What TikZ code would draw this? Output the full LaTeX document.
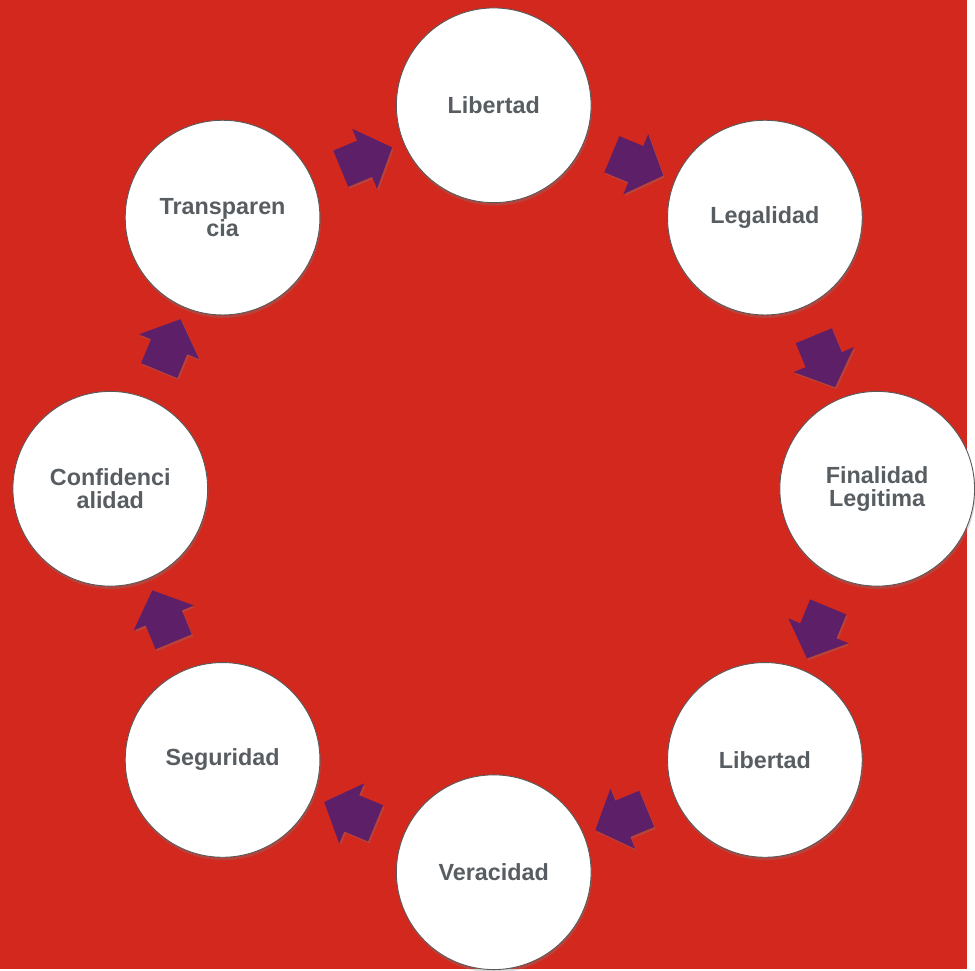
\documentclass[tikz,border=0pt]{standalone}
\usepackage{fontspec}
\setmainfont{Liberation Sans}
\usetikzlibrary{calc,shapes.arrows,shadows}

\definecolor{bgred}{RGB}{210,40,30}
\definecolor{flowpurple}{RGB}{92,31,104}
\definecolor{labelgray}{RGB}{88,93,98}

\begin{document}
\begin{tikzpicture}[x=1pt,y=1pt,
    principle/.style={circle, draw=black!65, line width=0.9pt, fill=white,
      minimum size=196pt, inner sep=0pt, align=center, text=labelgray,
      font=\fontsize{23.5}{23}\selectfont\bfseries,
      drop shadow={shadow xshift=1pt, shadow yshift=-3pt, opacity=0.3}},
    flow/.style={single arrow, fill=flowpurple, draw=none,
      inner xsep=0pt, inner ysep=19.5pt, minimum height=56pt,
      single arrow head extend=13pt, single arrow tip angle=95,
      drop shadow={shadow xshift=1.5pt, shadow yshift=-2pt, opacity=0.3}}]
    % background
    \fill[bgred] (-497,-483) rectangle (476,492);

    \node[principle] (p1) at (90:386) {Libertad};
    \node[principle] (p2) at (45:386) {Legalidad};
    \node[principle] (p3) at (0:386) {Finalidad\\Legitima};
    \node[principle] (p4) at (-45:386) {Libertad};
    \node[principle] (p5) at (-90:386) {Veracidad};
    \node[principle] (p6) at (-135:386) {Seguridad};
    \node[principle] (p7) at (180:386) {Confidenci\\alidad};
    \node[principle] (p8) at (135:386) {Transparen\\cia};

    \foreach \from/\to/\dir in {p1/p2/-22.5, p2/p3/-67.5, p3/p4/-112.5, p4/p5/-157.5,
                                p5/p6/157.5, p6/p7/112.5, p7/p8/67.5, p8/p1/22.5} {
      \node[flow, rotate=\dir] (a\from) at ($(\from)!0.5!(\to)$) {};
    }
\end{tikzpicture}
\end{document}
